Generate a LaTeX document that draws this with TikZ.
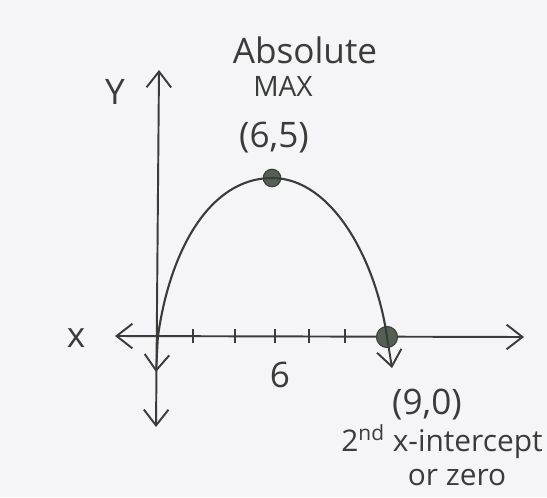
\documentclass[tikz,border=0pt]{standalone}
\usepackage{fontspec}
\setmainfont{Open Sans}
\usetikzlibrary{arrows.meta}
\definecolor{paper}{RGB}{245,245,247}
\definecolor{pencil}{RGB}{58,60,58}
\definecolor{dotgreen}{RGB}{84,96,84}

\begin{document}
\begin{tikzpicture}[x=0.02cm,y=-0.02cm,
  barb/.style={line width=1.1pt,draw=pencil,-{Straight Barb[length=9pt,width=14pt,line width=1.1pt]}},
  axis/.style={line width=1.1pt,draw=pencil,{Straight Barb[length=9pt,width=14pt,line width=1.1pt]}-{Straight Barb[length=9pt,width=14pt,line width=1.1pt]}},
  dot/.style={circle,fill=dotgreen,draw=pencil,line width=0.6pt,inner sep=0pt,minimum size=#1},
  lbl/.style={text=pencil,inner sep=0pt,font=\fontsize{20}{24}\selectfont},
  small/.style={text=pencil,inner sep=0pt,font=\fontsize{17}{20}\selectfont}]
\useasboundingbox[fill=paper] (0,0) rectangle (547,497);
\coordinate (origin) at (158,336);
\coordinate (ytop) at (159,70);
\coordinate (ybot) at (156,427);
\coordinate (xleft) at (115,336);
\coordinate (xright) at (524,337);
\coordinate (tailleft) at (156,372);
\coordinate (tailright) at (392,368);
\draw[axis] (ybot) -- (ytop);
\draw[axis] (xleft) -- (xright);
\foreach \tx in {193,235,275,309,345}
  \draw[line width=1.1pt,pencil] (\tx,329) -- (\tx,343);
\node[dot=10pt] (max) at (272,178) {};
\node[dot=12pt] (zero) at (387,337) {};
\draw[line width=1.2pt,pencil] (origin) .. controls (170,250) and (210,178) .. (max.center)
  .. controls (332,178) and (376,260) .. (zero.center);
\draw[barb] (origin) -- (tailleft);
\draw[barb] (zero.center) -- (tailright);
\node[lbl] (ylabel) at (115,92) {Y};
\node[lbl] (xlabel) at (76,338) {x};
\node[lbl] (abs) at (305,50) {Absolute};
\node[lbl,font=\fontsize{16}{20}\selectfont] (maxlabel) at (283,86) {MAX};
\node[lbl] (maxpt) at (274,138) {(6,5)};
\node[lbl] (six) at (280,375) {6};
\node[lbl] (zeropt) at (427,405) {(9,0)};
\node[small] (second) at (442,442) {2\textsuperscript{nd} x-intercept};
\node[small] (orzero) at (457,477) {or zero};
\end{tikzpicture}
\end{document}
